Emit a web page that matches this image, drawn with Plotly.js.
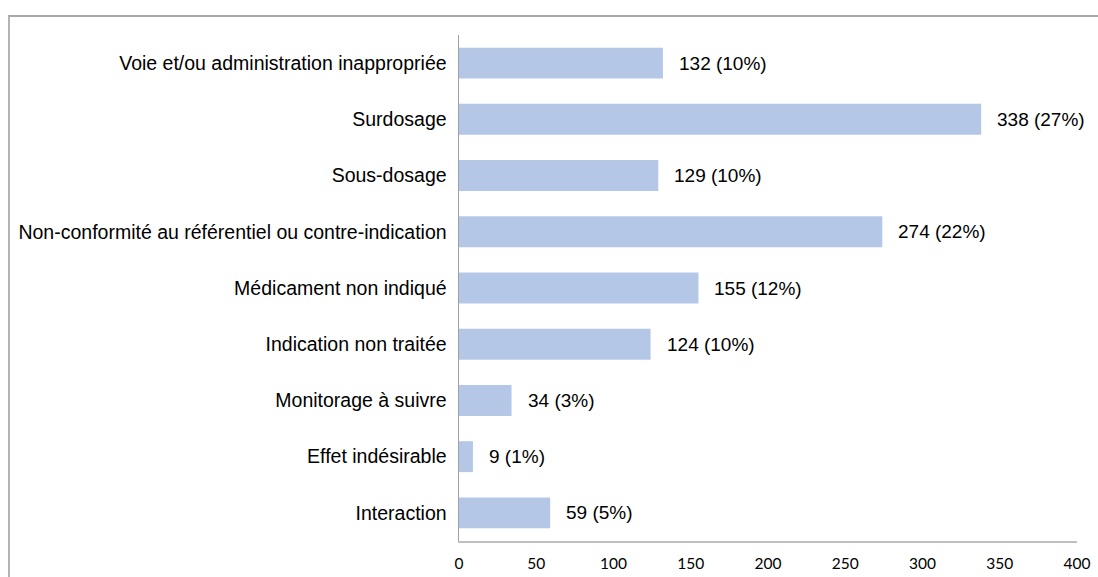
<!DOCTYPE html>
<html>
<head>
<meta charset="utf-8">
<script src="https://cdn.plot.ly/plotly-3.0.1.min.js"></script>
<style>
  html, body { margin: 0; padding: 0; background: #ffffff; overflow: hidden; }
  #wrap { position: relative; width: 1098px; height: 577px; }
  #chart { position: absolute; left: 0; top: 0; width: 1098px; height: 577px; }
  #frame {
    position: absolute; left: 8px; top: 15px; width: 1200px; height: 1000px;
    border-left: 2px solid #b4b4b4; border-top: 2px solid #a8a8a8;
    pointer-events: none;
  }
</style>
</head>
<body>
<div id="wrap">
  <div id="chart"></div>
  <div id="frame"></div>
</div>
<script>
// Types d'interventions pharmaceutiques (ordre d'affichage, de bas en haut)
const categories = [
  "Interaction",
  "Effet indésirable",
  "Monitorage à suivre",
  "Indication non traitée",
  "Médicament non indiqué",
  "Non-conformité au référentiel ou contre-indication",
  "Sous-dosage",
  "Surdosage",
  "Voie et/ou administration inappropriée"
];
const counts = [59, 9, 34, 124, 155, 274, 129, 338, 132];
const percents = [5, 1, 3, 10, 12, 22, 10, 27, 10];
const xTicks = [0, 50, 100, 150, 200, 250, 300, 350, 400];

const catFont = { family: "Liberation Sans, Arial, sans-serif", size: 19.5, color: "#000000" };
const valFont = { family: "Liberation Sans, Arial, sans-serif", size: 19, color: "#000000" };

const trace = {
  type: "bar",
  orientation: "h",
  y: categories,
  x: counts,
  marker: { color: "#b4c7e7", line: { width: 0 } },
  hoverinfo: "skip"
};

// Étiquettes "n (p%)" à droite de chaque barre
const annotations = categories.map((c, i) => ({
  x: counts[i],
  y: c,
  xref: "x",
  yref: "y",
  text: counts[i] + " (" + percents[i] + "%)",
  showarrow: false,
  xanchor: "left",
  yanchor: "middle",
  xshift: 14,
  font: valFont
}));

const layout = {
  width: 1098,
  height: 577,
  margin: { l: 459, r: 21, t: 35, b: 36 },
  paper_bgcolor: "rgba(0,0,0,0)",
  plot_bgcolor: "#ffffff",
  showlegend: false,
  bargap: 0.45,
  xaxis: {
    range: [0, 400],
    tickvals: xTicks,
    ticktext: xTicks.map(String),
    showgrid: false,
    zeroline: false,
    showline: true,
    linecolor: "#bfbfbf",
    linewidth: 2,
    ticks: "",
    ticklabelstandoff: 7,
    tickfont: { family: "Lato, Carlito, Calibri, sans-serif", size: 15.5, color: "#000000" },
    fixedrange: true
  },
  yaxis: {
    type: "category",
    categoryorder: "array",
    categoryarray: categories,
    showgrid: false,
    zeroline: false,
    showline: true,
    linecolor: "#a0a0a0",
    linewidth: 1.5,
    ticks: "",
    ticklabelstandoff: 7,
    tickfont: catFont,
    fixedrange: true
  },
  annotations: annotations
};

Plotly.newPlot("chart", [trace], layout, { displayModeBar: false, staticPlot: true });
</script>
</body>
</html>
